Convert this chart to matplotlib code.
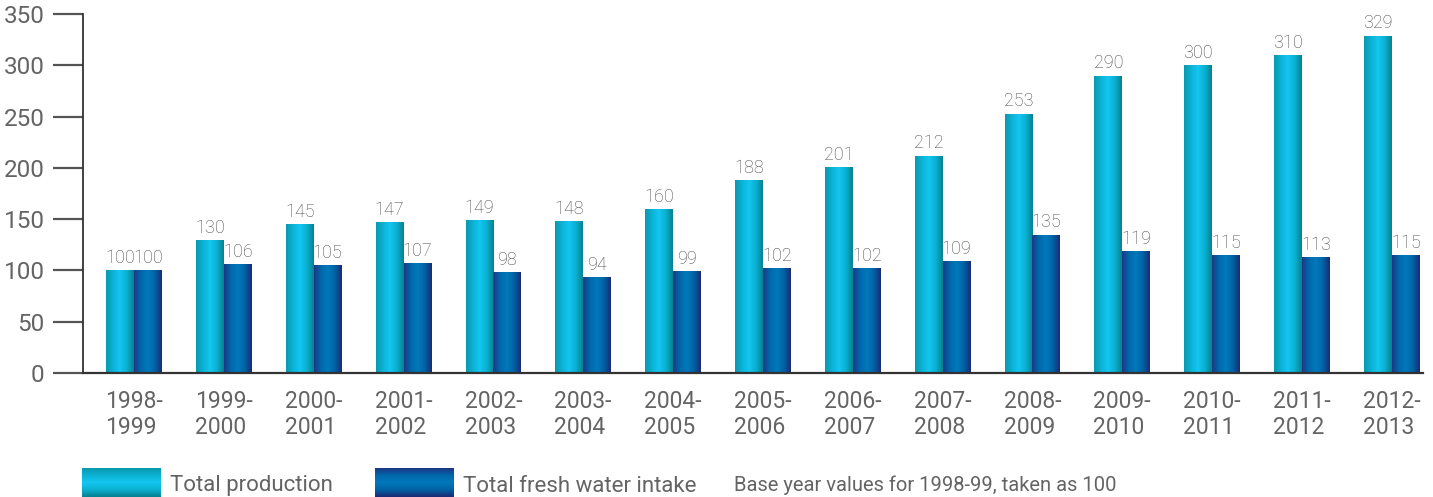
import numpy as np
import matplotlib
matplotlib.use("Agg")
import matplotlib.pyplot as plt
from matplotlib.colors import LinearSegmentedColormap

years = ["1998-\n1999", "1999-\n2000", "2000-\n2001", "2001-\n2002", "2002-\n2003",
         "2003-\n2004", "2004-\n2005", "2005-\n2006", "2006-\n2007", "2007-\n2008",
         "2008-\n2009", "2009-\n2010", "2010-\n2011", "2011-\n2012", "2012-\n2013"]
production = [100, 130, 145, 147, 149, 148, 160, 188, 201, 212, 253, 290, 300, 310, 329]
fresh_water = [100, 106, 105, 107, 98, 94, 99, 102, 102, 109, 135, 119, 115, 113, 115]

GREY = "#646464"
light_cmap = LinearSegmentedColormap.from_list(
    "light", ["#0a98ae", "#0cb2d4", "#14c6f2", "#0ab0d0", "#07808f"])
dark_cmap = LinearSegmentedColormap.from_list(
    "dark", ["#1c3784", "#0068ac", "#0079bb", "#0062a4", "#1c2a74"])

plt.rcParams["font.family"] = ["Roboto", "DejaVu Sans"]

fig = plt.figure(figsize=(14.33, 4.97), dpi=100)
ax = fig.add_axes([0.0579, 0.2495, 0.935, 0.7223])

x = np.arange(len(years))
w = 0.31
grad = np.linspace(0, 1, 256).reshape(1, -1)


def gradient_bars(xs, vals, cmap):
    bars = ax.bar(xs, vals, width=w, facecolor="none", edgecolor="none")
    for b in bars:
        x0, y0 = b.get_x(), b.get_y()
        im = ax.imshow(grad, cmap=cmap, aspect="auto",
                       extent=(x0, x0 + b.get_width(), y0, y0 + b.get_height()),
                       zorder=2)
        im.set_clip_path(b)
    return bars


gradient_bars(x - w / 2, production, light_cmap)
gradient_bars(x + w / 2, fresh_water, dark_cmap)

label_font = dict(fontsize=13, fontweight="light", color="#4a4a4a")
for i in range(len(years)):
    ax.text(x[i] - w / 2, production[i] + 3, str(production[i]), ha="center", va="bottom", **label_font)
    ax.text(x[i] + w / 2, fresh_water[i] + 3, str(fresh_water[i]), ha="center", va="bottom", **label_font)

ax.set_xlim(-0.5676, 14.345)
ax.set_ylim(0, 350)
ax.set_yticks(range(0, 351, 50))
ax.set_xticks(x)
ax.set_xticklabels(years, multialignment="left", linespacing=1.2)

ax.tick_params(axis="y", direction="out", length=21.6, width=1.6, color="#555555",
               labelsize=17.5, labelcolor=GREY, pad=6)
ax.tick_params(axis="x", length=0, labelsize=16.5, labelcolor=GREY, pad=12)

for side in ["top", "right"]:
    ax.spines[side].set_visible(False)
ax.spines["left"].set_color("#333333")
ax.spines["left"].set_linewidth(1.3)
ax.spines["bottom"].set_color("#333333")
ax.spines["bottom"].set_linewidth(1.6)
ax.set_zorder(1)

# legend swatches drawn as small gradient axes along the bottom
vgrad = np.linspace(0, 1, 64).reshape(-1, 1)
legend_items = [("Total production", light_cmap, 82, 170),
                ("Total fresh water intake", dark_cmap, 375, 463)]
for name, cmap, sx, tx in legend_items:
    sw = fig.add_axes([sx / 1433, 0 / 497, 79 / 1433, 29 / 497])
    sw.imshow(vgrad, cmap=cmap, aspect="auto")
    sw.axis("off")
    fig.text(tx / 1433, 11 / 497, name, fontsize=16, color=GREY, ha="left", va="center")

fig.text(734 / 1433, 12 / 497, "Base year values for 1998-99, taken as 100",
         fontsize=14.5, color=GREY, ha="left", va="center")

fig.savefig("out.png", dpi=100)
